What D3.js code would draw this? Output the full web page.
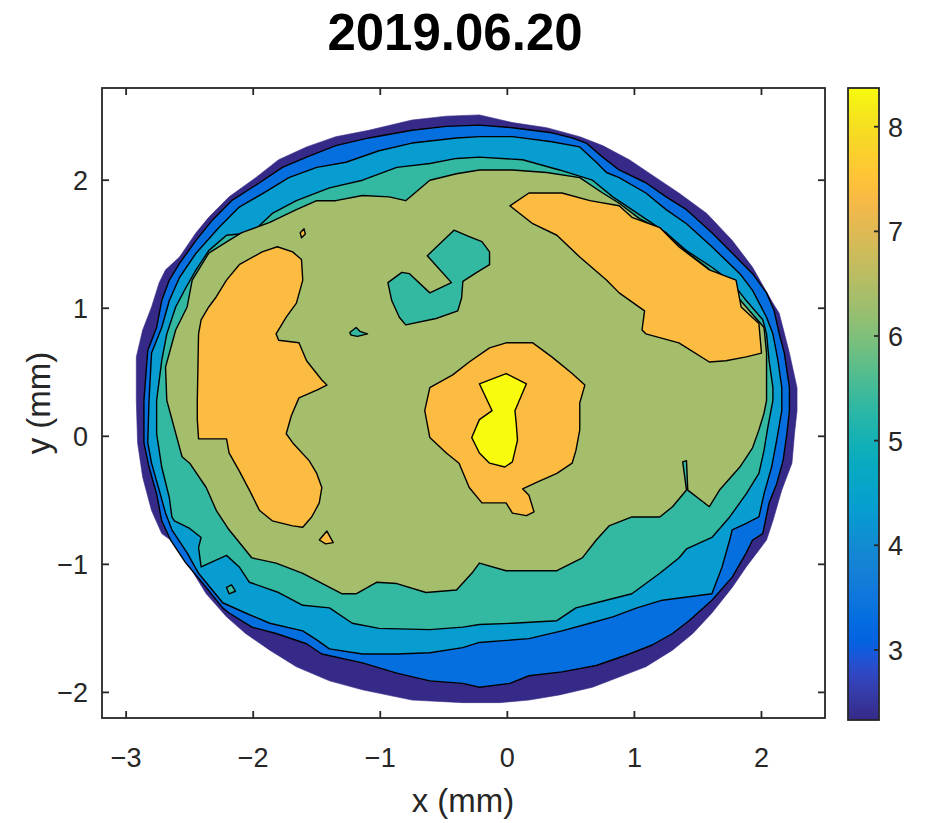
<!DOCTYPE html>
<html><head><meta charset="utf-8">
<script src="https://cdn.jsdelivr.net/npm/d3@7"></script>
<style>
body{margin:0;background:#fff}
svg{display:block}
text{font-family:"Liberation Sans",Arial,Helvetica,sans-serif;fill:#262626}
</style>
</head><body>
<svg id="chart" width="932" height="823"></svg>
<script>
// ---------------- data ----------------
const chartTitle = "2019.06.20";
const xLabel = "x (mm)";
const yLabel = "y (mm)";
const xTicks = [-3, -2, -1, 0, 1, 2];
const yTicks = [-2, -1, 0, 1, 2];
const colorbarTicks = [3, 4, 5, 6, 7, 8];
const xLimits = [-3.19, 2.5];
const yLimits = [-2.2, 2.72];
const zLimits = [2.33, 8.37];
const contourLevels = [3, 4, 5, 6, 7, 8];

// outer edge of the measured area (mm)
const dataBoundary = [[-0.22,2.51],[0.04,2.45],[0.31,2.41],[0.57,2.34],[0.75,2.27],[0.96,2.16],[1.17,2.02],[1.35,1.90],[1.57,1.74],[1.77,1.53],[1.93,1.32],[2.09,1.04],[2.14,0.96],[2.22,0.65],[2.28,0.38],[2.28,0.20],[2.26,0.02],[2.24,-0.21],[2.16,-0.42],[2.09,-0.66],[2.04,-0.81],[1.88,-1.02],[1.77,-1.18],[1.61,-1.38],[1.46,-1.54],[1.30,-1.67],[1.09,-1.80],[0.88,-1.88],[0.67,-1.96],[0.41,-2.02],[0.17,-2.06],[-0.06,-2.08],[-0.35,-2.08],[-0.75,-2.06],[-1.14,-1.98],[-1.40,-1.91],[-1.66,-1.80],[-1.87,-1.67],[-2.06,-1.54],[-2.21,-1.41],[-2.37,-1.23],[-2.50,-1.02],[-2.61,-0.84],[-2.72,-0.76],[-2.80,-0.58],[-2.87,-0.32],[-2.91,-0.05],[-2.92,0.28],[-2.92,0.62],[-2.87,0.83],[-2.80,1.01],[-2.74,1.20],[-2.69,1.30],[-2.58,1.40],[-2.45,1.59],[-2.35,1.71],[-2.19,1.87],[-1.98,2.02],[-1.80,2.16],[-1.58,2.26],[-1.35,2.34],[-1.09,2.39],[-0.75,2.47],[-0.48,2.50]];

// contour z = 3
const level3 = [[[-0.22,2.43],[0.04,2.41],[0.35,2.37],[0.51,2.33],[0.62,2.29],[0.75,2.18],[0.88,2.08],[1.09,1.98],[1.25,1.87],[1.41,1.77],[1.61,1.59],[1.80,1.40],[1.93,1.27],[2.04,1.12],[2.10,0.98],[2.14,0.80],[2.18,0.65],[2.22,0.38],[2.22,0.20],[2.20,0.02],[2.17,-0.19],[2.12,-0.37],[2.06,-0.52],[2.01,-0.76],[1.93,-0.81],[1.88,-0.91],[1.77,-1.10],[1.61,-1.28],[1.43,-1.44],[1.30,-1.54],[1.14,-1.63],[0.96,-1.70],[0.70,-1.79],[0.43,-1.84],[0.17,-1.87],[0.02,-1.93],[-0.22,-1.96],[-0.35,-1.93],[-0.61,-1.91],[-0.87,-1.85],[-1.14,-1.77],[-1.46,-1.70],[-1.58,-1.62],[-1.82,-1.54],[-2.01,-1.49],[-2.19,-1.38],[-2.24,-1.34],[-2.37,-1.18],[-2.53,-0.99],[-2.65,-0.81],[-2.72,-0.66],[-2.76,-0.45],[-2.82,-0.24],[-2.86,-0.05],[-2.86,0.28],[-2.83,0.67],[-2.76,0.85],[-2.72,1.06],[-2.66,1.22],[-2.58,1.35],[-2.45,1.53],[-2.32,1.69],[-2.17,1.84],[-1.95,1.98],[-1.77,2.10],[-1.58,2.18],[-1.35,2.27],[-1.09,2.33],[-0.75,2.39],[-0.48,2.42]]];

// contour z = 4
const level4 = [[[-0.22,2.34],[0.04,2.34],[0.35,2.30],[0.57,2.26],[0.70,2.14],[0.78,2.06],[0.88,2.02],[1.09,1.90],[1.25,1.77],[1.41,1.66],[1.61,1.48],[1.83,1.27],[1.93,1.14],[2.04,0.93],[2.09,0.80],[2.13,0.59],[2.16,0.38],[2.16,0.20],[2.12,-0.03],[2.08,-0.24],[2.02,-0.45],[1.98,-0.63],[1.88,-0.68],[1.77,-0.73],[1.75,-0.81],[1.69,-1.02],[1.61,-1.23],[1.22,-1.28],[1.02,-1.34],[0.83,-1.41],[0.65,-1.46],[0.43,-1.52],[0.17,-1.58],[-0.22,-1.61],[-0.35,-1.65],[-0.61,-1.69],[-0.87,-1.70],[-1.14,-1.70],[-1.40,-1.66],[-1.50,-1.59],[-1.61,-1.52],[-1.87,-1.46],[-2.06,-1.38],[-2.24,-1.30],[-2.43,-1.07],[-2.52,-0.91],[-2.64,-0.73],[-2.69,-0.60],[-2.74,-0.42],[-2.80,-0.21],[-2.83,-0.05],[-2.82,0.28],[-2.80,0.65],[-2.72,0.85],[-2.66,1.06],[-2.58,1.24],[-2.45,1.43],[-2.27,1.63],[-2.11,1.79],[-1.90,1.91],[-1.72,2.02],[-1.50,2.10],[-1.27,2.14],[-1.01,2.23],[-0.75,2.29],[-0.40,2.33]]];

// contour z = 5 (main ring + small island)
const level5 = [
  [[-0.22,2.18],[0.12,2.16],[0.41,2.08],[0.67,2.00],[0.83,1.87],[0.98,1.77],[1.22,1.61],[1.41,1.45],[1.61,1.32],[1.77,1.20],[1.88,1.06],[2.01,0.91],[2.04,0.80],[2.06,0.59],[2.09,0.38],[2.09,0.28],[2.05,0.07],[2.02,-0.11],[1.98,-0.29],[1.88,-0.45],[1.75,-0.63],[1.61,-0.79],[1.41,-0.88],[1.35,-0.95],[1.20,-1.07],[0.98,-1.23],[0.70,-1.30],[0.54,-1.34],[0.39,-1.44],[0.04,-1.46],[-0.22,-1.47],[-0.35,-1.49],[-0.61,-1.51],[-1.01,-1.50],[-1.22,-1.46],[-1.40,-1.34],[-1.61,-1.32],[-1.80,-1.22],[-2.03,-1.14],[-2.11,-1.02],[-2.21,-0.93],[-2.41,-1.02],[-2.43,-0.87],[-2.41,-0.79],[-2.50,-0.72],[-2.62,-0.66],[-2.64,-0.63],[-2.66,-0.48],[-2.72,-0.24],[-2.76,0.02],[-2.76,0.28],[-2.72,0.59],[-2.68,0.80],[-2.61,1.01],[-2.53,1.16],[-2.45,1.30],[-2.35,1.45],[-2.21,1.57],[-2.01,1.59],[-1.85,1.74],[-1.66,1.84],[-1.40,1.94],[-1.14,2.00],[-0.87,2.10],[-0.61,2.13],[-0.40,2.17]],
  [[-2.21,-1.18],[-2.17,-1.16],[-2.14,-1.21],[-2.19,-1.23]]
];

// contour z = 6
const level6 = [[[-0.22,2.08],[0.04,2.08],[0.31,2.06],[0.57,2.02],[0.75,1.90],[0.88,1.82],[1.04,1.70],[1.25,1.59],[1.41,1.44],[1.57,1.32],[1.75,1.16],[1.88,1.01],[2.02,0.85],[2.04,0.65],[2.04,0.38],[2.04,0.28],[2.02,0.18],[1.98,0.05],[1.93,-0.09],[1.83,-0.24],[1.67,-0.42],[1.59,-0.55],[1.42,-0.42],[1.41,-0.19],[1.38,-0.20],[1.41,-0.42],[1.30,-0.55],[1.20,-0.63],[0.98,-0.63],[0.80,-0.70],[0.70,-0.81],[0.59,-0.95],[0.39,-1.05],[-0.01,-1.05],[-0.22,-0.99],[-0.28,-1.07],[-0.40,-1.20],[-0.64,-1.22],[-0.87,-1.15],[-1.03,-1.14],[-1.19,-1.23],[-1.30,-1.23],[-1.61,-1.07],[-1.82,-0.99],[-2.01,-0.95],[-2.19,-0.73],[-2.29,-0.58],[-2.37,-0.40],[-2.50,-0.21],[-2.56,-0.16],[-2.68,0.28],[-2.69,0.54],[-2.61,0.83],[-2.52,1.01],[-2.48,1.22],[-2.35,1.43],[-2.19,1.53],[-2.09,1.59],[-1.87,1.67],[-1.66,1.77],[-1.50,1.84],[-1.35,1.84],[-1.14,1.88],[-0.93,1.87],[-0.80,1.84],[-0.61,2.00],[-0.40,2.05]]];

// regions below 6 enclosed by the z = 6 plateau
const level6Holes = [
  [[-0.42,1.61],[-0.30,1.56],[-0.20,1.52],[-0.14,1.44],[-0.14,1.34],[-0.24,1.28],[-0.35,1.21],[-0.36,1.08],[-0.39,0.98],[-0.56,0.92],[-0.80,0.87],[-0.85,0.93],[-0.91,1.06],[-0.94,1.20],[-0.83,1.28],[-0.77,1.27],[-0.61,1.12],[-0.44,1.20],[-0.63,1.41]],
  [[-1.24,0.81],[-1.19,0.85],[-1.16,0.82],[-1.10,0.80],[-1.18,0.78],[-1.23,0.79]]
];

// contour z = 7
const level7 = [
  [[-1.81,1.48],[-1.69,1.44],[-1.62,1.38],[-1.61,1.22],[-1.66,1.04],[-1.74,0.93],[-1.82,0.80],[-1.80,0.75],[-1.64,0.73],[-1.58,0.59],[-1.46,0.44],[-1.42,0.40],[-1.50,0.36],[-1.64,0.30],[-1.70,0.16],[-1.74,0.02],[-1.69,-0.05],[-1.56,-0.19],[-1.50,-0.29],[-1.46,-0.40],[-1.48,-0.52],[-1.54,-0.63],[-1.61,-0.71],[-1.69,-0.70],[-1.85,-0.66],[-1.95,-0.58],[-2.03,-0.42],[-2.11,-0.27],[-2.19,-0.13],[-2.21,-0.02],[-2.43,-0.02],[-2.44,0.13],[-2.44,0.28],[-2.43,0.80],[-2.41,0.91],[-2.35,1.01],[-2.29,1.09],[-2.21,1.22],[-2.11,1.34],[-1.93,1.44]],
  [[0.02,1.80],[0.17,1.90],[0.43,1.90],[0.65,1.84],[0.88,1.80],[0.98,1.71],[1.20,1.63],[1.35,1.48],[1.59,1.30],[1.80,1.22],[1.84,1.01],[1.98,0.88],[2.00,0.65],[1.88,0.62],[1.72,0.59],[1.59,0.58],[1.35,0.73],[1.09,0.80],[1.06,0.83],[1.08,0.98],[0.88,1.12],[0.78,1.22],[0.57,1.40],[0.39,1.57],[0.20,1.66]],
  [[-0.01,0.73],[0.20,0.73],[0.35,0.62],[0.51,0.49],[0.61,0.40],[0.57,0.26],[0.57,0.05],[0.54,-0.11],[0.51,-0.21],[0.39,-0.29],[0.23,-0.36],[0.12,-0.41],[0.17,-0.46],[0.21,-0.59],[0.15,-0.62],[0.04,-0.60],[-0.01,-0.52],[-0.20,-0.52],[-0.30,-0.40],[-0.38,-0.21],[-0.48,-0.13],[-0.61,-0.01],[-0.65,0.20],[-0.61,0.38],[-0.43,0.48],[-0.30,0.58],[-0.14,0.69]],
  [[-1.48,-0.81],[-1.42,-0.74],[-1.37,-0.83],[-1.43,-0.84]],
  [[-1.63,1.59],[-1.60,1.62],[-1.59,1.58],[-1.62,1.55]]
];

// contour z = 8
const level8 = [[[-0.01,0.49],[0.15,0.41],[0.06,0.20],[0.07,0.10],[0.08,-0.03],[0.04,-0.20],[-0.02,-0.24],[-0.14,-0.21],[-0.22,-0.13],[-0.28,-0.01],[-0.22,0.13],[-0.12,0.20],[-0.22,0.41]]];

// parula colormap (64 entries)
const parula = [[.208,.166,.529],[.212,.190,.578],[.212,.214,.627],[.208,.239,.677],[.196,.264,.728],[.171,.292,.779],[.125,.324,.830],[.059,.360,.868],[.012,.388,.882],[.006,.409,.883],[.017,.427,.879],[.033,.443,.872],[.050,.459,.864],[.063,.474,.855],[.072,.489,.847],[.078,.504,.838],[.079,.520,.831],[.075,.538,.826],[.064,.557,.824],[.049,.577,.823],[.034,.597,.820],[.027,.614,.814],[.024,.629,.804],[.023,.642,.791],[.023,.653,.777],[.027,.664,.761],[.038,.674,.744],[.059,.684,.725],[.084,.693,.706],[.113,.702,.686],[.145,.710,.665],[.180,.718,.642],[.218,.725,.619],[.259,.732,.595],[.302,.738,.571],[.348,.742,.547],[.395,.746,.524],[.442,.748,.503],[.487,.749,.484],[.530,.749,.466],[.571,.749,.449],[.610,.747,.434],[.647,.746,.419],[.683,.743,.404],[.718,.741,.390],[.752,.738,.377],[.786,.736,.363],[.819,.733,.350],[.851,.730,.336],[.882,.727,.322],[.914,.726,.306],[.945,.726,.289],[.974,.731,.267],[.994,.745,.240],[.999,.765,.216],[.996,.786,.197],[.988,.807,.179],[.979,.827,.163],[.970,.848,.147],[.963,.871,.131],[.959,.895,.113],[.960,.922,.095],[.966,.951,.076],[.976,.983,.054]];

// ---------------- drawing ----------------
const interp = d3.piecewise(d3.interpolateRgb,
  parula.map(c => d3.rgb(c[0]*255, c[1]*255, c[2]*255).toString()));
const fmt = v => (v < 0 ? "\u2212" : "") + Math.abs(v);

const svg = d3.select("#chart");
const plot = {left: 102, right: 825, top: 88, bottom: 718};
const x = d3.scaleLinear().domain(xLimits).range([plot.left, plot.right]);
const y = d3.scaleLinear().domain(yLimits).range([plot.bottom, plot.top]);
const nBands = contourLevels.length + 1;
const bandColor = i => interp(i / (nBands - 1));

const line = d3.line().x(d => x(d[0])).y(d => y(d[1])).curve(d3.curveLinearClosed);

const defs = svg.append("defs");
defs.append("clipPath").attr("id", "clip")
  .append("rect").attr("x", plot.left).attr("y", plot.top)
  .attr("width", plot.right - plot.left).attr("height", plot.bottom - plot.top);

const layers = [
  {rings: [dataBoundary], band: 0, stroke: false},
  {rings: level3, band: 1, stroke: true},
  {rings: level4, band: 2, stroke: true},
  {rings: level5, band: 3, stroke: true},
  {rings: level6, band: 4, stroke: true},
  {rings: level6Holes, band: 3, stroke: true},
  {rings: level7, band: 5, stroke: true},
  {rings: level8, band: 6, stroke: true}
];

const g = svg.append("g").attr("clip-path", "url(#clip)");
layers.forEach(L => {
  g.append("g").selectAll("path").data(L.rings).join("path")
    .attr("d", line)
    .attr("fill", bandColor(L.band))
    .attr("stroke", L.stroke ? "#000" : bandColor(L.band))
    .attr("stroke-width", L.stroke ? 1.4 : 0.6)
    .attr("stroke-linejoin", "round");
});

// axes box
const axisColor = "#262626";
svg.append("rect").attr("x", plot.left).attr("y", plot.top)
  .attr("width", plot.right - plot.left).attr("height", plot.bottom - plot.top)
  .attr("fill", "none").attr("stroke", axisColor).attr("stroke-width", 1.8);

const tickLen = 7;
const fontTick = 27;
xTicks.forEach(t => {
  const px = x(t);
  svg.append("line").attr("x1", px).attr("x2", px).attr("y1", plot.bottom).attr("y2", plot.bottom - tickLen)
    .attr("stroke", axisColor).attr("stroke-width", 1.8);
  svg.append("line").attr("x1", px).attr("x2", px).attr("y1", plot.top).attr("y2", plot.top + tickLen)
    .attr("stroke", axisColor).attr("stroke-width", 1.8);
  svg.append("text").attr("x", px).attr("y", plot.bottom + 49).attr("text-anchor", "middle")
    .attr("font-size", fontTick).text(fmt(t));
});
yTicks.forEach(t => {
  const py = y(t);
  svg.append("line").attr("y1", py).attr("y2", py).attr("x1", plot.left).attr("x2", plot.left + tickLen)
    .attr("stroke", axisColor).attr("stroke-width", 1.8);
  svg.append("line").attr("y1", py).attr("y2", py).attr("x1", plot.right).attr("x2", plot.right - tickLen)
    .attr("stroke", axisColor).attr("stroke-width", 1.8);
  svg.append("text").attr("x", plot.left - 14).attr("y", py + 10).attr("text-anchor", "end")
    .attr("font-size", fontTick).text(fmt(t));
});

svg.append("text").attr("x", 463).attr("y", 812)
  .attr("text-anchor", "middle").attr("font-size", 33).text(xLabel);
svg.append("text").attr("transform", `translate(50,${(plot.top + plot.bottom) / 2}) rotate(-90)`)
  .attr("text-anchor", "middle").attr("font-size", 33).text(yLabel);

svg.append("text").attr("x", 455).attr("y", 50).attr("text-anchor", "middle")
  .attr("font-size", 51).attr("font-weight", "bold").style("fill", "#000").text(chartTitle);

// colorbar
const cb = {left: 848, right: 879, top: 88, bottom: 720};
const cy = d3.scaleLinear().domain(zLimits).range([cb.bottom, cb.top]);
const grad = defs.append("linearGradient").attr("id", "cbgrad")
  .attr("x1", 0).attr("y1", 1).attr("x2", 0).attr("y2", 0);
d3.range(64).forEach(i => {
  grad.append("stop").attr("offset", i / 63).attr("stop-color", interp(i / 63));
});
svg.append("rect").attr("x", cb.left).attr("y", cb.top)
  .attr("width", cb.right - cb.left).attr("height", cb.bottom - cb.top)
  .attr("fill", "url(#cbgrad)").attr("stroke", axisColor).attr("stroke-width", 1.8);
colorbarTicks.forEach(t => {
  const py = cy(t);
  svg.append("line").attr("x1", cb.right).attr("x2", cb.right - 5).attr("y1", py).attr("y2", py)
    .attr("stroke", axisColor).attr("stroke-width", 1.8);
  svg.append("text").attr("x", cb.right + 9).attr("y", py + 10)
    .attr("font-size", fontTick).text(fmt(t));
});
</script>
</body></html>
